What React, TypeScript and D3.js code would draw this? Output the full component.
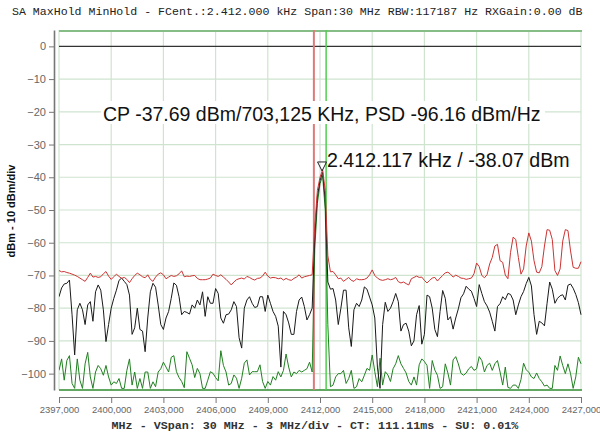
import { useEffect, useRef } from "react";
import * as d3 from "d3";

const TITLE =
  "SA MaxHold MinHold - FCent.:2.412.000 kHz Span:30 MHz RBW:117187 Hz RXGain:0.00 dB";
const X_TITLE = "MHz - VSpan: 30 MHz - 3 MHz/div - CT: 111.11ms - SU: 0.01%";
const Y_TITLE = "dBm - 10 dBm/div";
const CP_TEXT = "CP -37.69 dBm/703,125 KHz, PSD -96.16 dBm/Hz";
const MARKER_TEXT = "2.412.117 kHz / -38.07 dBm";

// sweep grid
const START_MHZ = 2397;
const STOP_MHZ = 2427;
const STEP_MHZ = 0.15;

const xTicks = [2397, 2400, 2403, 2406, 2409, 2412, 2415, 2418, 2421, 2424, 2427];
const yTicks = [0, -10, -20, -30, -40, -50, -60, -70, -80, -90, -100];

const CENTER_MHZ = 2412;
const CP_BW_MHZ = 0.703125;
const markerFreq = 2412.117;
const markerLevel = -38.07;

// red trace
const maxHold = [
  -68.5, -68.9, -68.8, -69.1, -69.3, -69.6, -69.9, -70.3, -70.8, -71.3,
  -71.8, -70.6, -69.3, -70.5, -70.3, -70.6, -70.4, -69.5, -68.8, -70.2,
  -71.2, -70.4, -69.6, -70.3, -70.9, -70.6, -71.2, -72.2, -71.0, -70.0,
  -69.3, -69.8, -70.4, -70.7, -69.8, -71.2, -71.8, -70.5, -69.6, -69.2,
  -69.8, -71.0, -70.5, -70.0, -70.3, -70.1, -69.5, -68.6, -70.4, -70.2,
  -70.3, -70.1, -70.0, -70.9, -71.3, -71.3, -71.3, -71.1, -70.8, -69.6,
  -70.0, -70.3, -69.8, -70.5, -71.2, -72.0, -72.9, -72.0, -71.3, -71.0,
  -70.8, -71.1, -70.3, -70.6, -71.1, -71.4, -70.9, -70.8, -70.2, -69.0,
  -70.2, -70.8, -70.6, -70.7, -71.0, -70.8, -71.4, -70.9, -71.3, -71.5,
  -70.9, -70.5, -69.8, -70.8, -70.4, -70.2, -70.0, -69.8, -55.0, -44.0,
  -40.0, -37.7, -44.0, -64.0, -68.9, -68.8, -69.8, -71.0, -70.8, -71.8,
  -71.2, -70.6, -71.5, -71.8, -71.0, -71.3, -71.3, -71.2, -70.8, -69.8,
  -68.3, -70.0, -70.8, -71.3, -71.5, -71.3, -71.0, -71.3, -71.1, -70.6,
  -71.9, -72.3, -72.0, -72.5, -72.9, -71.0, -70.6, -70.2, -70.6, -70.5,
  -71.5, -72.3, -71.5, -70.8, -70.6, -71.7, -70.8, -70.0, -69.2, -69.0,
  -69.6, -70.5, -69.9, -70.3, -70.8, -70.9, -71.2, -71.0, -70.8, -69.5,
  -66.2, -67.3, -70.0, -70.7, -69.8, -66.5, -64.5, -61.0, -60.5, -65.5,
  -66.0, -69.9, -71.0, -63.0, -58.3, -59.0, -64.5, -69.6, -68.0, -61.0,
  -57.0, -59.5, -65.5, -69.0, -69.2, -67.3, -61.0, -56.0, -56.2, -59.0,
  -68.5, -70.0, -68.0, -59.5, -56.0, -56.3, -62.5, -67.5, -67.8, -67.8,
  -65.8,
];

// black trace
const clearWrite = [
  -76.5, -73.8, -72.6, -72.4, -71.4, -82.0, -94.3, -80.5, -78.5, -80.5,
  -85.0, -79.0, -78.0, -84.0, -75.0, -72.9, -74.5, -80.5, -90.2, -85.0,
  -80.0, -77.0, -74.5, -71.5, -70.8, -71.8, -72.8, -76.0, -88.0, -86.0,
  -80.0, -86.5, -87.0, -93.3, -83.0, -75.0, -72.4, -73.6, -79.0, -85.0,
  -86.5, -83.0, -81.0, -77.0, -72.3, -73.0, -76.5, -82.0, -81.0, -81.3,
  -81.8, -79.0, -80.0, -77.5, -79.0, -75.0, -82.5, -76.5, -78.5, -78.5,
  -74.0, -75.5, -83.0, -84.6, -82.0, -81.8, -80.5, -78.0, -79.5, -89.0,
  -92.2, -80.0, -77.5, -76.5, -78.5, -79.8, -79.5, -76.5, -76.5, -81.0,
  -76.0, -78.5, -81.0, -82.5, -85.5, -98.0, -81.0, -82.0, -84.5, -88.0,
  -88.0, -81.0, -77.5, -76.6, -79.5, -83.6, -82.0, -80.0, -58.0, -46.0,
  -41.0, -38.5, -47.0, -72.0, -74.2, -74.0, -77.5, -85.0, -80.0, -74.5,
  -74.5, -86.0, -91.7, -80.5, -78.5, -79.5, -77.5, -73.5, -74.2, -76.6,
  -79.0, -83.0, -98.0, -104.5, -85.0, -78.2, -81.0, -80.0, -78.0, -75.5,
  -78.0, -87.0, -85.0, -84.6, -87.0, -91.5, -90.0, -82.0, -79.2, -91.0,
  -88.0, -76.0, -76.5, -80.0, -86.5, -88.7, -81.0, -74.6, -77.0, -83.6,
  -82.6, -86.4, -83.0, -80.2, -76.8, -75.6, -73.3, -74.2, -74.8, -77.0,
  -79.5, -72.8, -75.5, -78.0, -79.3, -81.2, -84.0, -87.0, -79.5, -78.6,
  -76.5, -77.4, -75.5, -75.8, -77.5, -82.0, -79.0, -76.5, -74.9, -72.5,
  -70.6, -73.2, -82.0, -88.0, -84.0, -84.5, -85.4, -78.5, -72.0, -74.2,
  -78.5, -77.0, -76.2, -75.9, -77.5, -73.0, -72.6, -73.9, -75.8, -78.3,
  -82.0,
];

// green trace
const minHold = [
  -99.0, -95.5, -102.0, -96.0, -94.5, -103.0, -104.5, -95.5, -102.0, -104.5,
  -97.0, -93.5, -101.0, -104.5, -99.5, -97.5, -98.5, -100.5, -97.5, -101.0,
  -103.5, -102.5, -103.0, -101.5, -104.5, -104.5, -99.0, -95.5, -103.5, -99.5,
  -104.5, -101.5, -104.5, -99.5, -99.5, -104.5, -102.5, -104.0, -99.5, -98.5,
  -96.5, -98.0, -99.5, -95.0, -94.5, -99.4, -101.2, -102.4, -104.3, -93.3,
  -95.3, -97.3, -101.2, -98.4, -100.0, -104.5, -104.5, -102.0, -99.4, -99.9,
  -101.2, -102.2, -93.0, -97.5, -99.5, -103.5, -103.0, -100.4, -101.4, -104.5,
  -101.4, -96.8, -95.8, -100.4, -99.4, -99.4, -99.4, -97.3, -102.4, -104.5,
  -102.4, -103.5, -100.9, -102.0, -99.4, -101.0, -99.0, -94.0, -98.0, -101.0,
  -99.5, -100.0, -99.0, -99.5, -99.0, -98.5, -96.5, -99.5, -62.0, -48.0,
  -42.0, -39.5, -50.0, -85.0, -104.0, -103.5, -101.0, -100.0, -100.0, -99.0,
  -103.0, -101.5, -99.0, -104.5, -104.0, -101.5, -102.5, -100.5, -98.4, -99.0,
  -94.3, -99.4, -104.0, -95.3, -103.5, -99.4, -100.4, -102.4, -98.5, -97.0,
  -94.5, -97.0, -98.4, -99.8, -102.4, -103.5, -101.0, -103.5, -97.3, -95.5,
  -96.3, -97.5, -104.5, -96.0, -98.9, -100.5, -104.5, -104.0, -97.0, -99.8,
  -103.5, -95.8, -94.8, -97.0, -99.9, -100.5, -99.8, -98.5, -97.8, -99.0,
  -98.5, -94.8, -96.0, -99.5, -97.5, -96.8, -99.0, -97.0, -96.0, -99.5,
  -103.5, -98.0, -104.2, -104.5, -103.5, -103.5, -104.5, -101.8, -96.8, -98.8,
  -99.6, -101.0, -101.5, -99.8, -101.5, -102.5, -103.8, -103.5, -104.5, -104.5,
  -97.5, -99.0, -94.6, -97.5, -100.0, -97.0, -100.0, -104.5, -101.0, -95.0,
  -97.0,
];

const SANS = "'Liberation Sans', Arial, sans-serif";
const MONO = "'Liberation Mono', 'Courier New', monospace";

export default function App() {
  const svgRef = useRef<SVGSVGElement>(null);

  useEffect(() => {
    document.body.style.margin = "0";
    if (!svgRef.current) return;

    const width = 600;
    const height = 437;
    const plot = { left: 59, right: 581, top: 30, bottom: 390 };

    const svg = d3.select(svgRef.current);
    svg.selectAll("*").remove();
    svg.attr("width", width).attr("height", height);

    const x = d3
      .scaleLinear()
      .domain([START_MHZ, STOP_MHZ])
      .range([plot.left, plot.right]);
    const y = d3.scaleLinear().domain([5, -105]).range([plot.top, plot.bottom]);

    svg
      .append("defs")
      .append("clipPath")
      .attr("id", "plot-clip")
      .append("rect")
      .attr("x", plot.left)
      .attr("y", plot.top)
      .attr("width", plot.right - plot.left + 1)
      .attr("height", plot.bottom - plot.top);

    // grid
    const grid = svg.append("g");
    grid
      .selectAll("line.v")
      .data(xTicks)
      .join("line")
      .attr("x1", (d) => x(d))
      .attr("x2", (d) => x(d))
      .attr("y1", plot.top)
      .attr("y2", plot.bottom)
      .attr("stroke", (d) => (d === CENTER_MHZ ? "#dcdcdc" : "#cfe4cf"))
      .attr("stroke-width", 1.2);
    grid
      .selectAll("line.h")
      .data(yTicks.filter((d) => d !== 0))
      .join("line")
      .attr("x1", plot.left)
      .attr("x2", plot.right)
      .attr("y1", (d) => y(d))
      .attr("y2", (d) => y(d))
      .attr("stroke", "#cfe4cf")
      .attr("stroke-width", 1.2);

    // reference line at 0 dBm
    svg
      .append("line")
      .attr("x1", plot.left)
      .attr("x2", plot.right)
      .attr("y1", y(0))
      .attr("y2", y(0))
      .attr("stroke", "#333")
      .attr("stroke-width", 1.2);

    // frame
    svg
      .append("line")
      .attr("x1", plot.left)
      .attr("x2", plot.right + 1)
      .attr("y1", plot.top + 1)
      .attr("y2", plot.top + 1)
      .attr("stroke", "#86bd86")
      .attr("stroke-width", 2);
    svg
      .append("line")
      .attr("x1", plot.left)
      .attr("x2", plot.right + 1)
      .attr("y1", plot.bottom)
      .attr("y2", plot.bottom)
      .attr("stroke", "#2e8b2e")
      .attr("stroke-width", 1.5);

    // channel power markers
    svg
      .append("line")
      .attr("x1", x(CENTER_MHZ - CP_BW_MHZ / 2))
      .attr("x2", x(CENTER_MHZ - CP_BW_MHZ / 2))
      .attr("y1", plot.top)
      .attr("y2", plot.bottom)
      .attr("stroke", "#dd7b7b")
      .attr("stroke-width", 2);
    svg
      .append("line")
      .attr("x1", x(CENTER_MHZ + CP_BW_MHZ / 2))
      .attr("x2", x(CENTER_MHZ + CP_BW_MHZ / 2))
      .attr("y1", plot.top)
      .attr("y2", plot.bottom)
      .attr("stroke", "#4fcf4f")
      .attr("stroke-width", 1.5);

    // traces
    const line = d3
      .line<number>()
      .x((_, i) => x(START_MHZ + i * STEP_MHZ))
      .y((d) => y(d));

    const traces = svg.append("g").attr("clip-path", "url(#plot-clip)");
    [
      { data: minHold, color: "#217f21" },
      { data: clearWrite, color: "#1a1a1a" },
      { data: maxHold, color: "#cc3333" },
    ].forEach((t) => {
      traces
        .append("path")
        .datum(t.data)
        .attr("d", line)
        .attr("fill", "none")
        .attr("stroke", t.color)
        .attr("stroke-width", 1)
        .attr("stroke-linejoin", "round");
    });

    // y axis
    const yAxis = svg
      .append("g")
      .attr("transform", `translate(54,0)`)
      .call(
        d3
          .axisLeft(y)
          .tickValues(yTicks)
          .tickSize(5)
          .tickSizeOuter(0)
          .tickPadding(3)
      );
    yAxis.select(".domain").attr("stroke", "#777").attr("stroke-width", 1.6);
    yAxis.selectAll(".tick line").attr("stroke", "#777");
    yAxis
      .selectAll("text")
      .attr("fill", "#666")
      .style("font-family", SANS)
      .style("font-size", "11px");

    // x axis
    const xAxis = svg
      .append("g")
      .attr("transform", `translate(0,397)`)
      .call(
        d3
          .axisBottom(x)
          .tickValues(xTicks)
          .tickSize(6)
          .tickSizeOuter(0)
          .tickPadding(3)
          .tickFormat((d) => d3.format(".3f")(d as number).replace(".", ","))
      );
    xAxis.select(".domain").attr("stroke", "#777").attr("stroke-width", 1.2);
    xAxis.selectAll(".tick line").attr("stroke", "#777");
    xAxis
      .selectAll("text")
      .attr("fill", "#666")
      .style("font-family", SANS)
      .style("font-size", "9.5px");

    // titles
    svg
      .append("text")
      .attr("x", 12)
      .attr("y", 15)
      .style("font-family", MONO)
      .style("font-size", "11.6px")
      .attr("fill", "#222")
      .text(TITLE);
    svg
      .append("text")
      .attr("x", 315)
      .attr("y", 429)
      .attr("text-anchor", "middle")
      .style("font-family", MONO)
      .style("font-size", "11.7px")
      .style("font-weight", "bold")
      .attr("fill", "#333")
      .text(X_TITLE);
    svg
      .append("text")
      .attr("transform", `translate(15,211) rotate(-90)`)
      .attr("text-anchor", "middle")
      .style("font-family", SANS)
      .style("font-size", "11px")
      .style("font-weight", "bold")
      .attr("fill", "#111")
      .text(Y_TITLE);

    // CP annotation
    svg
      .append("rect")
      .attr("x", 101)
      .attr("y", 101)
      .attr("width", 444)
      .attr("height", 23)
      .attr("fill", "#fff");
    svg
      .append("text")
      .attr("x", 103)
      .attr("y", 120.5)
      .style("font-family", SANS)
      .style("font-size", "19.5px")
      .attr("fill", "#111")
      .text(CP_TEXT);

    // peak marker
    const mx = x(markerFreq);
    const my = y(markerLevel);
    svg
      .append("path")
      .attr("d", `M${mx - 4.5},${my - 9}L${mx + 4.5},${my - 9}L${mx},${my}Z`)
      .attr("fill", "none")
      .attr("stroke", "#222")
      .attr("stroke-width", 1);
    svg
      .append("text")
      .attr("x", 327)
      .attr("y", 167)
      .style("font-family", SANS)
      .style("font-size", "19.6px")
      .attr("fill", "#111")
      .text(MARKER_TEXT);
  }, []);

  return <svg ref={svgRef} style={{ display: "block" }} />;
}
